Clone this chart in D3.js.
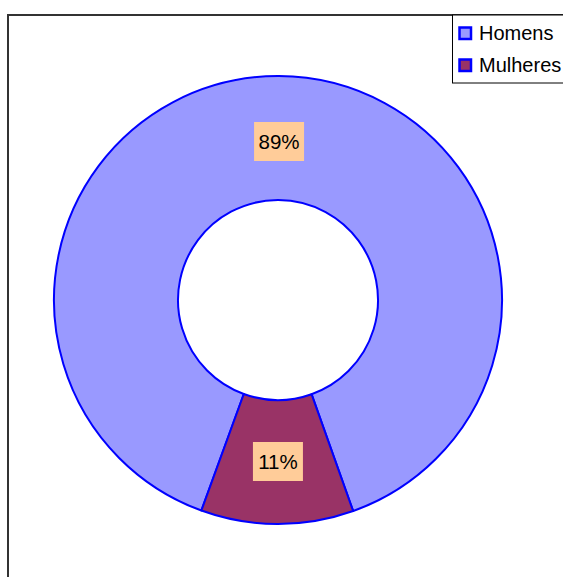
<!DOCTYPE html>
<html><head><meta charset="utf-8">
<script src="https://cdn.jsdelivr.net/npm/d3@7"></script>
<style>html,body{margin:0;padding:0;background:#fff;}svg{display:block;}</style>
</head><body>
<svg id="chart" width="563" height="577"></svg>
<script>
const categories = ["Homens", "Mulheres"];
const values = [89, 11];
const labels = ["89%", "11%"];
const colors = ["#9999FF", "#993366"];

const svg = d3.select("#chart");
const font = "'Liberation Sans', Arial, sans-serif";

// outer frame
svg.append("rect").attr("x", 8).attr("y", 15).attr("width", 600).attr("height", 600)
  .attr("fill", "none").attr("stroke", "#333").attr("stroke-width", 2);

const cx = 278, cy = 300, outerR = 224, innerR = 100;
const start = 200 * Math.PI / 180;
const pie = d3.pie().sort(null).value(d => d).startAngle(start).endAngle(start + 2 * Math.PI);
const arcs = pie(values);
const arc = d3.arc().innerRadius(innerR).outerRadius(outerR);
const labelArc = d3.arc().innerRadius(160).outerRadius(160);

const g = svg.append("g").attr("transform", `translate(${cx},${cy})`);
g.selectAll("path").data(arcs).join("path")
  .attr("d", arc).attr("fill", (d, i) => colors[i])
  .attr("stroke", "#0000FF").attr("stroke-width", 2).attr("stroke-linejoin", "round");

const lab = g.selectAll("g.lab").data(arcs).join("g").attr("class", "lab")
  .attr("transform", d => { const c = labelArc.centroid(d); return `translate(${c[0] + 0.5},${c[1] + 1.5})`; });
lab.append("rect").attr("x", -25).attr("y", -19.5).attr("width", 50).attr("height", 39).attr("fill", "#FFCC99");
lab.append("text").attr("text-anchor", "middle").attr("y", 7.5)
  .attr("font-family", font).attr("font-size", 20.5).attr("fill", "#000")
  .text((d, i) => labels[i]);

// legend
const lg = svg.append("g");
lg.append("rect").attr("x", 452.5).attr("y", 15).attr("width", 200).attr("height", 68)
  .attr("fill", "#fff").attr("stroke", "#000").attr("stroke-width", 1);
const items = lg.selectAll("g.item").data(categories).join("g").attr("class", "item")
  .attr("transform", (d, i) => `translate(458,${26 + i * 32})`);
items.append("rect").attr("x", 1.5).attr("y", 1.5).attr("width", 11.5).attr("height", 11.5)
  .attr("fill", (d, i) => colors[i]).attr("stroke", "#0000FF").attr("stroke-width", 2.5);
items.append("text").attr("x", 21).attr("y", 14)
  .attr("font-family", font).attr("font-size", 20).attr("fill", "#000").text(d => d);
</script>
</body></html>
